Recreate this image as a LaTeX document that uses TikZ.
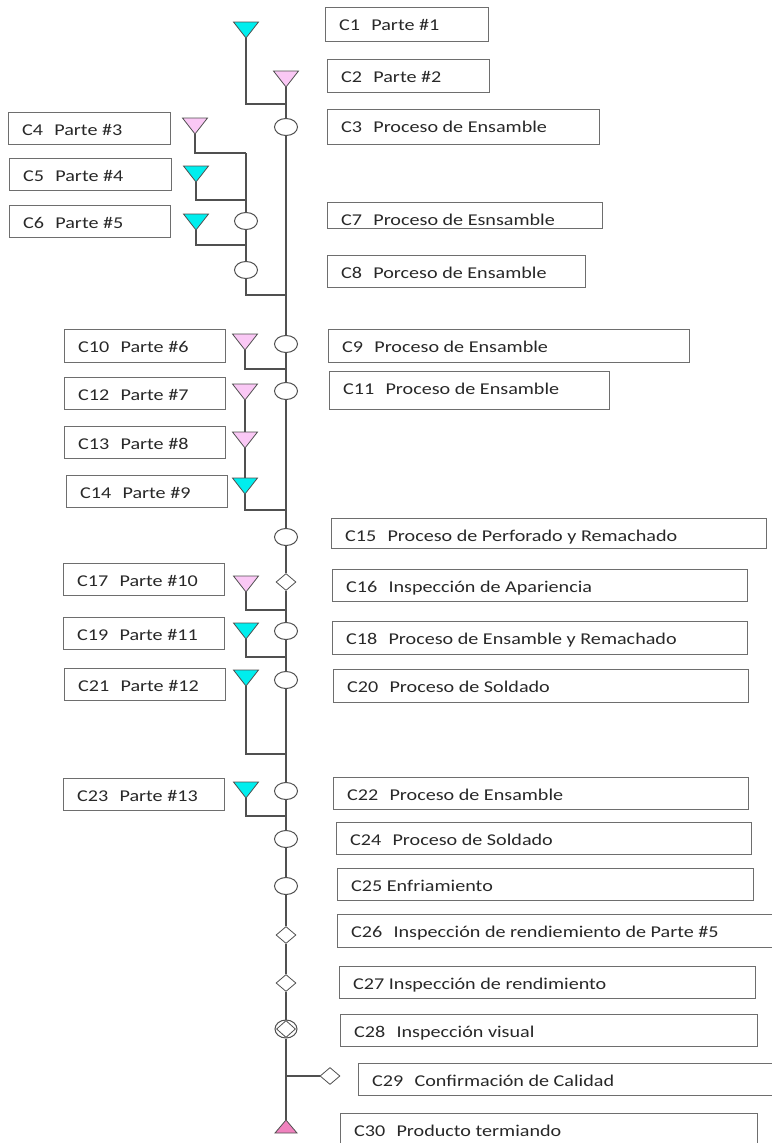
\documentclass[tikz,border=0pt]{standalone}
\usepackage{fontspec}
\setmainfont{Carlito}[FakeStretch=1.22]
\usetikzlibrary{shapes.geometric}
\definecolor{boxgray}{RGB}{110,110,110}
\definecolor{linegray}{RGB}{80,80,80}
\definecolor{txtgray}{RGB}{40,40,40}
\definecolor{tcyan}{RGB}{0,238,238}
\definecolor{tpink}{RGB}{250,200,245}
\definecolor{tpinkdark}{RGB}{240,130,190}
\tikzset{
  lbox/.style={draw=boxgray, line width=1pt, inner sep=0pt, outer sep=0pt, anchor=north west},
  ltext/.style={anchor=base west, inner sep=0pt, font=\fontsize{16.5}{19}\selectfont, text=txtgray},
  proc/.style={ellipse, draw=linegray, fill=white, line width=1pt, minimum width=23pt, minimum height=17pt, inner sep=0pt},
  insp/.style={diamond, draw=linegray, fill=white, line width=0.8pt, minimum width=20pt, minimum height=17pt, inner sep=0pt},
  conn/.style={draw=linegray, line width=1.1pt},
  tricyan/.style={draw=linegray, fill=tcyan, line width=0.8pt, line join=miter},
  tripink/.style={draw=linegray, fill=tpink, line width=0.8pt, line join=miter},
}
\newcommand\lbl[6]{%
  \node[lbox, minimum width={(#4-#2)*1pt}, minimum height={(#5-#3)*1pt}] (#1) at (#2,#3) {};
  \node[ltext] (#1t) at (#2+14,#3+23.5) {#6};}
\newcommand\tri[4]{%
  \coordinate (#1) at (#2,#3);
  \coordinate (#1top) at (#2,#3-16);
  \draw[#4] (#1) -- ++(12.5,-16) -- ++(-25,0) -- cycle;}
\newcommand\gap{\hspace{0.68em}}
\begin{document}
\begin{tikzpicture}[x=1pt,y=-1pt]
\useasboundingbox (0,0) rectangle (771,1143);
% label boxes
\lbl{b1}{325}{7}{488}{41}{C1\gap Parte \#1}
\lbl{b2}{327}{59}{489}{92}{C2\gap Parte \#2}
\lbl{b3}{327}{109}{599}{144}{C3\gap Proceso de Ensamble}
\lbl{b4}{8}{112}{170}{144}{C4\gap Parte \#3}
\lbl{b5}{9}{158}{171}{190}{C5\gap Parte \#4}
\lbl{b6}{9}{205}{170}{237}{C6\gap Parte \#5}
\lbl{b7}{327}{202}{602}{228}{C7\gap Proceso de Esnsamble}
\lbl{b8}{327}{255}{585}{287}{C8\gap Porceso de Ensamble}
\lbl{b9}{328}{329}{689}{362}{C9\gap Proceso de Ensamble}
\lbl{b10}{64}{329}{225}{362}{C10\gap Parte \#6}
\lbl{b11}{329}{371}{609}{409}{C11\gap Proceso de Ensamble}
\lbl{b12}{64}{377}{225}{409}{C12\gap Parte \#7}
\lbl{b13}{64}{426}{225}{458}{C13\gap Parte \#8}
\lbl{b14}{66}{475}{227}{507}{C14\gap Parte \#9}
\lbl{b15}{331}{518}{766}{548}{C15\gap Proceso de Perforado y Remachado}
\lbl{b16}{332}{569}{747}{601}{C16\gap Inspección de Apariencia}
\lbl{b17}{63}{563}{224}{595}{C17\gap Parte \#10}
\lbl{b18}{332}{621}{747}{654}{C18\gap Proceso de Ensamble y Remachado}
\lbl{b19}{63}{617}{224}{649}{C19\gap Parte \#11}
\lbl{b20}{333}{669}{748}{702}{C20\gap Proceso de Soldado}
\lbl{b21}{64}{668}{225}{700}{C21\gap Parte \#12}
\lbl{b22}{333}{777}{748}{809}{C22\gap Proceso de Ensamble}
\lbl{b23}{63}{778}{224}{810}{C23\gap Parte \#13}
\lbl{b24}{336}{822}{751}{854}{C24\gap Proceso de Soldado}
\lbl{b25}{337}{868}{753}{900}{C25 Enfriamiento}
\lbl{b26}{337}{914}{775}{947}{C26\gap Inspección de rendiemiento de Parte \#5}
\lbl{b27}{339}{966}{755}{998}{C27 Inspección de rendimiento}
\lbl{b28}{340}{1014}{757}{1046}{C28\gap Inspección visual}
\lbl{b29}{358}{1063}{775}{1095}{C29\gap Confirmación de Calidad}
\lbl{b30}{340}{1113}{757}{1149}{C30\gap Producto termiando}
% operation symbols
\node[proc] (c3) at (286,127) {};
\node[proc] (c7) at (246,221) {};
\node[proc] (c8) at (246,270) {};
\node[proc] (c9) at (286,344) {};
\node[proc] (c11) at (286,391) {};
\node[proc] (c15) at (286,537) {};
\node[insp] (c16) at (286,582) {};
\node[proc] (c18) at (286,631) {};
\node[proc] (c20) at (286,680) {};
\node[proc] (c22) at (286,791) {};
\node[proc] (c24) at (286,839) {};
\node[proc] (c25) at (286,886) {};
\node[insp] (c26) at (286,935) {};
\node[insp] (c27) at (286,983) {};
\node[proc, minimum width=22pt, minimum height=18pt] (c28) at (286,1029) {};
\node[insp, minimum width=19pt, minimum height=17pt] (c28d) at (286,1029) {};
\node[insp] (c29) at (330,1076) {};
% junction points
\coordinate (j1) at (286,104);
\coordinate (j4) at (246,153);
\coordinate (j5) at (246,200);
\coordinate (j6) at (246,245);
\coordinate (j8) at (286,295);
\coordinate (j10) at (286,369);
\coordinate (j14) at (286,510);
\coordinate (j17) at (286,610);
\coordinate (j19) at (286,657);
\coordinate (j21) at (286,754);
\coordinate (j23) at (286,816);
\coordinate (j29) at (286,1076);
\coordinate (t30) at (286,1120);
% connectors
\draw[conn] (286,87) -- (c3);
\draw[conn] (c3) -- (c9);
\draw[conn] (c9) -- (c11);
\draw[conn] (c11) -- (c15);
\draw[conn] (c15) -- (c16);
\draw[conn] (c16) -- (c18);
\draw[conn] (c18) -- (c20);
\draw[conn] (c20) -- (c22);
\draw[conn] (c22) -- (c24);
\draw[conn] (c24) -- (c25);
\draw[conn] (c25) -- (c26);
\draw[conn] (c26) -- (c27);
\draw[conn] (c27) -- (c28);
\draw[conn] (c28) -- (t30);
\draw[conn] (j29) -- (c29);
\draw[conn] (246,38) |- (j1);
\draw[conn] (195,134) |- (j4);
\draw[conn] (j4) -- (c7);
\draw[conn] (c7) -- (c8);
\draw[conn] (196,230) |- (j6);
\draw[conn] (196,182) |- (j5);
\draw[conn] (c8) |- (j8);
\draw[conn] (245,350) |- (j10);
\draw[conn] (245,400) -- (245,433);
\draw[conn] (245,448) -- (245,479);
\draw[conn] (245,494) |- (j14);
\draw[conn] (246,592) |- (j17);
\draw[conn] (246,639) |- (j19);
\draw[conn] (246,686) |- (j21);
\draw[conn] (246,798) |- (j23);
% material triangles
\tri{t1}{246}{38}{tricyan}
\tri{t2}{286}{87}{tripink}
\tri{t4}{195}{134}{tripink}
\tri{t5}{196}{182}{tricyan}
\tri{t6}{196}{230}{tricyan}
\tri{t10}{245}{350}{tripink}
\tri{t12}{245}{400}{tripink}
\tri{t13}{245}{448}{tripink}
\tri{t14}{245}{494}{tricyan}
\tri{t17}{246}{592}{tripink}
\tri{t19}{246}{639}{tricyan}
\tri{t21}{246}{686}{tricyan}
\tri{t23}{246}{798}{tricyan}
\draw[draw=linegray, fill=tpinkdark, line width=0.8pt] (t30) -- ++(11,13) -- ++(-22,0) -- cycle;
\end{tikzpicture}
\end{document}
